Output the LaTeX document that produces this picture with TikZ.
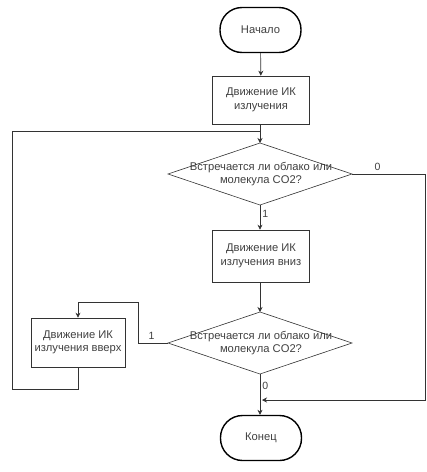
\documentclass[tikz,border=0pt]{standalone}
\usepackage{fontspec}
\setmainfont{Liberation Sans}
\usetikzlibrary{shapes.geometric,arrows.meta}
\begin{document}
\begin{tikzpicture}[x=1pt,y=-1pt,
  every node/.style={font=\fontsize{11.2}{13.5}\selectfont, text=black!75},
  term/.style={draw=black, line width=1.4pt, rounded corners=22pt, minimum width=81pt, minimum height=45pt},
  proc/.style={draw=black!80, line width=0.6pt, minimum width=97pt, minimum height=48pt, align=center},
  dectext/.style={align=center, inner sep=0pt},
  conn/.style={draw=black!80, line width=0.6pt},
  arr/.style={conn, -{Stealth[length=5pt,width=5pt]}},
  lbl/.style={font=\fontsize{10.5}{12}\selectfont}
]
\useasboundingbox (0,0) rectangle (427,472);
\node[term] (start) at (260.5,30) {Начало};
\node[proc] (b1) at (261,100) {Движение ИК\\излучения};
% decision 1
\node[dectext] (d1) at (261,174) {Встречается ли облако или\\молекула CO2?};
\coordinate (d1n) at (260,143); \coordinate (d1s) at (260,205);
\coordinate (d1w) at (168,174); \coordinate (d1e) at (352,174);
\draw[conn] (d1n) -- (d1e) -- (d1s) -- (d1w) -- cycle;
\node[proc, minimum height=52pt] (b2) at (261,256) {Движение ИК\\излучения вниз};
% decision 2
\node[dectext] (d2) at (261,343) {Встречается ли облако или\\молекула CO2?};
\coordinate (d2n) at (260,312); \coordinate (d2s) at (260,374);
\coordinate (d2w) at (168,343); \coordinate (d2e) at (352,343);
\draw[conn] (d2n) -- (d2e) -- (d2s) -- (d2w) -- cycle;
\node[proc, minimum width=94pt, minimum height=49pt] (b3) at (78,342.5) {Движение ИК\\излучения вверх};
\node[term] (end) at (261,438) {Конец};

\coordinate (j1) at (260,131);
\coordinate (j2) at (260,400);

\draw[arr] (start) -- (b1);
\draw[arr] (b1.south -| d1n) -- (d1n);
\draw[arr] (d1s) -- node[lbl, right, pos=0.35, inner sep=2pt] {1} (b2.north -| d1s);
\draw[arr] (b2.south -| d2n) -- (d2n);
\draw[arr] (d2s) -- node[lbl, right, pos=0.3, inner sep=2pt] {0} (end.north -| d2s);
\draw[arr] (d1e) -- node[lbl, above, pos=0.35] {0} (425,174) -- (425,400) -- ([xshift=2pt]j2);
\draw[arr] (d2w) -- node[lbl, above, pos=0.55] {1} (138,343) -- (138,302) -- (78,302) -- (b3.north);
\draw[conn] (b3.south) -- (78,389) -- (12,389) -- (12,131) -- (j1);
\end{tikzpicture}
\end{document}
